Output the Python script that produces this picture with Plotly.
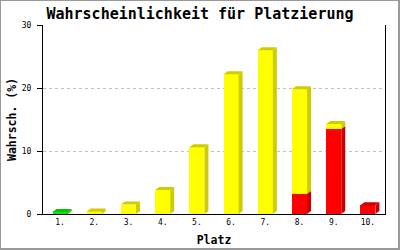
import plotly.graph_objects as go

# ---- data ----
categories = ["1.", "2.", "3.", "4.", "5.", "6.", "7.", "8.", "9.", "10."]
green_vals = [0.3, 0, 0, 0, 0, 0, 0, 0, 0, 0]
red_vals = [0, 0, 0, 0, 0, 0, 0, 3.2, 13.5, 1.4]
yellow_vals = [0, 0.4, 1.5, 3.8, 10.6, 22.2, 26.0, 16.6, 0.8, 0]
y_ticks = [0, 10, 20, 30]

# ---- style ----
W, H = 400, 250
L, R, T, B = 43, 15, 25, 36
plot_w = W - L - R
plot_h = H - T - B
YMAX = 30
x_unit = plot_w / 10.0
y_unit = plot_h / YMAX
DX = 4 / x_unit
DY = 3 / y_unit
BW = 0.44
MONO = "DejaVu Sans Mono"

front = {"green": "#00ee00", "red": "#ff0000", "yellow": "#ffff00"}
dark = {"green": "#00c400", "red": "#cc0000", "yellow": "#cccc00"}

xs = list(range(1, len(categories) + 1))
fig = go.Figure()

# stacking order: green, red, yellow
series = [("green", green_vals), ("red", red_vals), ("yellow", yellow_vals)]
for name, vals in series:
    fig.add_trace(go.Bar(x=xs, y=vals, width=BW, marker=dict(color=front[name], line=dict(width=0)),
                         showlegend=False, hoverinfo="skip"))

# 3D side and top faces computed from data
for i, xc in enumerate(xs):
    base = 0.0
    top_color = None
    xr = xc + BW / 2
    xl = xc - BW / 2
    for name, vals in series:
        v = vals[i]
        if v <= 0:
            continue
        b, t = base, base + v
        fig.add_trace(go.Scatter(
            x=[xr, xr + DX, xr + DX, xr, xr],
            y=[b, b + DY, t + DY, t, b],
            mode="lines", fill="toself", fillcolor=dark[name],
            line=dict(width=0, color=dark[name]), showlegend=False, hoverinfo="skip"))
        base = t
        top_color = name
    if top_color:
        fig.add_trace(go.Scatter(
            x=[xl, xl + DX, xr + DX, xr, xl],
            y=[base, base + DY, base + DY, base, base],
            mode="lines", fill="toself", fillcolor=dark[top_color],
            line=dict(width=0, color=dark[top_color]), showlegend=False, hoverinfo="skip"))

# outer gray border (pixel -> paper)
def px2x(px):
    return (px - L) / plot_w

def py2y(py):
    return (H - B - py) / plot_h

fig.add_shape(type="rect", xref="paper", yref="paper",
              x0=px2x(0), x1=px2x(399), y0=py2y(0), y1=py2y(249),
              line=dict(color="#999999", width=2), fillcolor="rgba(0,0,0,0)", layer="above")

fig.update_layout(
    width=W, height=H,
    margin=dict(l=L, r=R, t=T, b=B, autoexpand=False),
    paper_bgcolor="white", plot_bgcolor="white",
    barmode="stack", bargap=0,
    title=dict(text="<b>Wahrscheinlichkeit für Platzierung</b>", x=0.5, xref="container",
               xanchor="center", y=1 - 14 / H, yanchor="middle", yref="container",
               font=dict(family=MONO, size=15, color="black")),
    xaxis=dict(range=[0.5, 10.5], tickmode="array", tickvals=xs, ticktext=categories,
               showgrid=False, zeroline=False, showline=True, linecolor="black", linewidth=1,
               ticks="", tickfont=dict(family=MONO, size=8, color="black"),
               title=dict(text="<b>Platz</b>", font=dict(family=MONO, size=11.5, color="black"), standoff=10),
               automargin=False, fixedrange=True),
    yaxis=dict(range=[0, YMAX], tickmode="array", tickvals=y_ticks,
               showgrid=True, gridcolor="#c0c0c0", griddash="dot", gridwidth=1,
               zeroline=False, showline=True, mirror=True, linecolor="black", linewidth=1,
               ticks="outside", ticklen=5, tickcolor="black", tickwidth=1,
               ticklabelstandoff=4,
               tickfont=dict(family=MONO, size=8, color="black"),
               title=dict(text="<b>Wahrsch. (%)</b>", font=dict(family=MONO, size=11.5, color="black"), standoff=2),
               automargin=False, fixedrange=True),
)

fig.write_html("out.html")
